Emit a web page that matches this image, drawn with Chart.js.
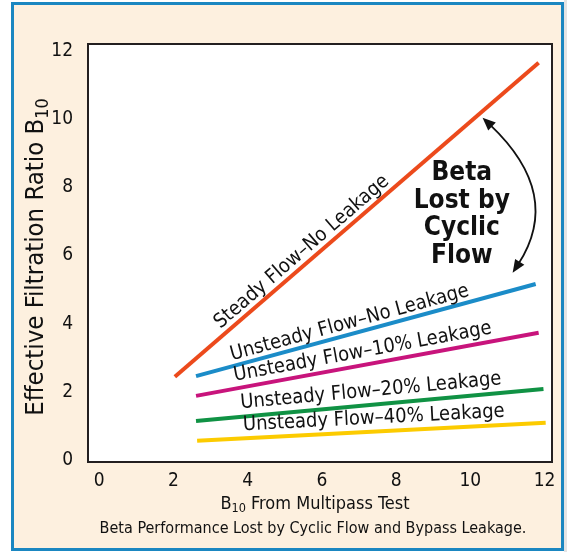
<!DOCTYPE html>
<html>
<head>
<meta charset="utf-8">
<script src="https://cdn.jsdelivr.net/npm/chart.js@4/dist/chart.umd.min.js"></script>
<style>
  html, body { margin: 0; padding: 0; background: #ffffff; width: 567px; height: 552px; overflow: hidden; }
  #strip { position: absolute; left: 564px; top: 0; width: 3px; height: 552px; background: #e4e4e4; }
  #frame { position: absolute; left: 11px; top: 2px; width: 553px; height: 549px; box-sizing: border-box;
           border: 3px solid #1b87c1; background: #fdf0df; }
  #c { position: absolute; left: 0; top: 0; }
</style>
</head>
<body>
<div id="strip"></div>
<div id="frame"></div>
<canvas id="c" width="567" height="552"></canvas>
<script>
// ---------- DATA ----------
const seriesNames = [
  'Steady Flow\u2013No Leakage',
  'Unsteady Flow\u2013No Leakage',
  'Unsteady Flow\u201310% Leakage',
  'Unsteady Flow\u201320% Leakage',
  'Unsteady Flow\u201340% Leakage'
];
const startX = [2.04, 2.61, 2.61, 2.61, 2.64];
const startY = [2.44, 2.46, 1.88, 1.14, 0.56];
const endX   = [11.84, 11.76, 11.84, 11.97, 12.03];
const endY   = [11.65, 5.16, 3.73, 2.08, 1.09];
const xTicks = [0, 2, 4, 6, 8, 10, 12];
const yTicks = [0, 2, 4, 6, 8, 10, 12];
// label anchor points (data coordinates)
const labelX = [5.46, 6.75, 7.10, 7.32, 7.40];
const labelY = [6.10, 4.02, 3.17, 2.02, 1.22];
const noteLines = ['Beta', 'Lost by', 'Cyclic', 'Flow'];
// ---------- STYLE ----------
const colors = ['#ec4a1c', '#1b8cc8', '#c8147c', '#109244', '#fccb00'];
const FONT = "'Liberation Sans Narrow', 'DejaVu Sans Condensed', 'Roboto Condensed', Arial, sans-serif";

const datasets = seriesNames.map((name, i) => ({
  label: name,
  data: [{x: startX[i], y: startY[i]}, {x: endX[i], y: endY[i]}],
  showLine: true,
  borderColor: colors[i],
  backgroundColor: colors[i],
  borderWidth: 4,
  pointRadius: 0,
  borderCapStyle: 'butt'
}));

const boxPlugin = {
  id: 'box',
  beforeDatasetsDraw(chart) {
    const {ctx, chartArea: a} = chart;
    ctx.save();
    ctx.fillStyle = '#ffffff';
    ctx.fillRect(a.left, a.top, a.right - a.left, a.bottom - a.top);
    ctx.restore();
  },
  afterDatasetsDraw(chart) {
    const {ctx, chartArea: a, scales: {x, y}} = chart;
    ctx.save();
    // box border
    ctx.strokeStyle = '#231f20';
    ctx.lineWidth = 2;
    ctx.strokeRect(a.left, a.top, a.right - a.left, a.bottom - a.top);

    // line labels
    ctx.fillStyle = '#111';
    ctx.font = '20px ' + FONT;
    ctx.textAlign = 'center';
    ctx.textBaseline = 'middle';
    seriesNames.forEach((name, i) => {
      const ang = Math.atan2(y.getPixelForValue(endY[i]) - y.getPixelForValue(startY[i]),
                             x.getPixelForValue(endX[i]) - x.getPixelForValue(startX[i]));
      ctx.save();
      ctx.translate(x.getPixelForValue(labelX[i]), y.getPixelForValue(labelY[i]));
      ctx.rotate(ang);
      ctx.fillText(name, 0, 0);
      ctx.restore();
    });

    // note text
    ctx.font = 'bold 26px ' + FONT;
    const nx = x.getPixelForValue(9.77);
    noteLines.forEach((t, k) => {
      ctx.fillText(t, nx, y.getPixelForValue(8.4) + k * 27.5);
    });

    // curved double arrow
    const p0 = [x.getPixelForValue(10.33), y.getPixelForValue(10.04)];
    const p1 = [x.getPixelForValue(12.51), y.getPixelForValue(7.79)];
    const p2 = [x.getPixelForValue(11.14), y.getPixelForValue(5.49)];
    const head = 13, hw = 5.5;
    function unit(a, b) { const dx = a[0]-b[0], dy = a[1]-b[1]; const l = Math.hypot(dx, dy); return [dx/l, dy/l]; }
    const u0 = unit(p0, p1), u2 = unit(p2, p1);
    const s0 = [p0[0] - u0[0]*head*0.8, p0[1] - u0[1]*head*0.8];
    const s2 = [p2[0] - u2[0]*head*0.8, p2[1] - u2[1]*head*0.8];
    ctx.strokeStyle = '#111';
    ctx.lineWidth = 1.8;
    ctx.beginPath();
    ctx.moveTo(s0[0], s0[1]);
    ctx.quadraticCurveTo(p1[0], p1[1], s2[0], s2[1]);
    ctx.stroke();
    ctx.fillStyle = '#111';
    [[p0, u0], [p2, u2]].forEach(([p, u]) => {
      const bx = p[0] - u[0]*head, by = p[1] - u[1]*head;
      ctx.beginPath();
      ctx.moveTo(p[0], p[1]);
      ctx.lineTo(bx - u[1]*hw, by + u[0]*hw);
      ctx.lineTo(bx + u[1]*hw, by - u[0]*hw);
      ctx.closePath();
      ctx.fill();
    });

    // axis titles with subscripts
    function subText(parts, cx, cy, size) {
      let w = 0;
      parts.forEach(([t, sub]) => { ctx.font = (sub ? size*0.7 : size) + 'px ' + FONT; w += ctx.measureText(t).width; });
      let px = cx - w/2;
      ctx.textAlign = 'left';
      parts.forEach(([t, sub]) => {
        ctx.font = (sub ? size*0.7 : size) + 'px ' + FONT;
        ctx.fillText(t, px, cy + (sub ? size*0.28 : 0));
        px += ctx.measureText(t).width;
      });
    }
    ctx.fillStyle = '#111';
    ctx.textBaseline = 'middle';
    subText([['B', false], ['10', true], [' From Multipass Test', false]], 315, 504, 18);
    ctx.font = '16px ' + FONT;
    ctx.textAlign = 'center';
    ctx.fillText('Beta Performance Lost by Cyclic Flow and Bypass Leakage.', 313, 529);
    ctx.save();
    ctx.translate(36, 257);
    ctx.rotate(-Math.PI/2);
    subText([['Effective Filtration Ratio B', false], ['10', true]], 0, 0, 25.5);
    ctx.restore();
    ctx.restore();
  }
};

new Chart(document.getElementById('c'), {
  type: 'scatter',
  data: { datasets },
  options: {
    responsive: false,
    devicePixelRatio: 1,
    animation: false,
    layout: { padding: { top: 44, right: 15, left: 0, bottom: 0 } },
    plugins: { legend: { display: false }, tooltip: { enabled: false } },
    scales: {
      x: {
        type: 'linear', min: -0.3, max: 12.2,
        grid: { display: false, drawTicks: false },
        border: { display: false },
        afterBuildTicks: s => { s.ticks = xTicks.map(v => ({value: v})); },
        afterFit: s => { s.height = 90; },
        ticks: { color: '#111', font: { family: FONT, size: 19 }, padding: 8, maxRotation: 0, autoSkip: false }
      },
      y: {
        type: 'linear', min: -0.06, max: 12.2,
        grid: { display: false, drawTicks: false },
        border: { display: false },
        afterBuildTicks: s => { s.ticks = yTicks.map(v => ({value: v})); },
        afterFit: s => { s.width = 88; },
        ticks: { color: '#111', font: { family: FONT, size: 19 }, padding: 15, autoSkip: false }
      }
    }
  },
  plugins: [boxPlugin]
});
</script>
</body>
</html>
